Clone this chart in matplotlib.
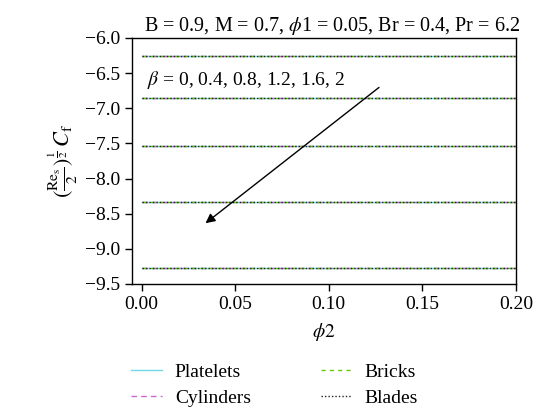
import matplotlib
matplotlib.use('Agg')
import matplotlib.pyplot as plt
import numpy as np

plt.rcParams.update({
    'font.family': 'serif',
    'font.serif': ['Liberation Serif', 'DejaVu Serif'],
    'mathtext.fontset': 'stix',
    'font.size': 14,
})

# phi2 range and skin friction levels for each beta
phi2 = [0.0, 0.2]
beta_levels = [-6.255, -6.85, -7.535, -8.335, -9.27]
yticks = [-9.5, -9.0, -8.5, -8.0, -7.5, -7.0, -6.5, -6.0]
xticks = [0.0, 0.05, 0.10, 0.15, 0.20]

shapes = ['Platelets', 'Cylinders', 'Bricks', 'Blades']
colors = {'Platelets': '#6fd8e6', 'Cylinders': '#cc66cc', 'Bricks': '#66cc00', 'Blades': '#222222'}
styles = {'Platelets': '-', 'Cylinders': (0, (4, 3)), 'Bricks': (0, (3, 3)), 'Blades': (0, (1, 1.5))}

fig = plt.figure(figsize=(5.33, 4.17), dpi=100)
ax = fig.add_axes([0.248, 0.319, 0.720, 0.590])

for shape in shapes:
    for i, cf in enumerate(beta_levels):
        ax.plot(phi2, [cf, cf], color=colors[shape], linestyle=styles[shape], linewidth=1.0,
                label=shape if i == 0 else None)

ax.set_xlim(-0.005, 0.2)
ax.set_ylim(-9.5, -6.0)
ax.set_xticks(xticks)
ax.set_xticklabels([f'{v:.2f}' for v in xticks])
ax.set_yticks(yticks)
ax.set_yticklabels([f'\u2212{abs(v):.1f}' for v in yticks])
ax.tick_params(direction='out', length=5, width=1.0, labelsize=14)
for sp in ax.spines.values():
    sp.set_linewidth(1.0)

ax.set_xlabel(r'$\phi2$', fontsize=14, labelpad=6)
ax.set_ylabel(r'$(\frac{\mathrm{Re_s}}{2})^{\frac{1}{2}}\,C_{\mathrm{f}}$', fontsize=16, labelpad=4)
ax.set_title(r'B = 0.9, M = 0.7, $\phi$1 = 0.05, Br = 0.4, Pr = 6.2', fontsize=14.5, pad=5, x=0.52)

ax.annotate('', xy=(0.033, -8.66), xytext=(0.128, -6.68),
            arrowprops=dict(arrowstyle='-|>', color='black', lw=1.0, mutation_scale=14))
ax.text(0.003, -6.6, r'$\beta$ = 0, 0.4, 0.8, 1.2, 1.6, 2', fontsize=14, va='center')

fig.legend(loc='lower center', bbox_to_anchor=(0.515, -0.018), ncol=2, frameon=False,
           fontsize=14, handlelength=1.6, handletextpad=0.65, columnspacing=3.6,
           labelspacing=0.42)

fig.savefig('out.png', dpi=100)
